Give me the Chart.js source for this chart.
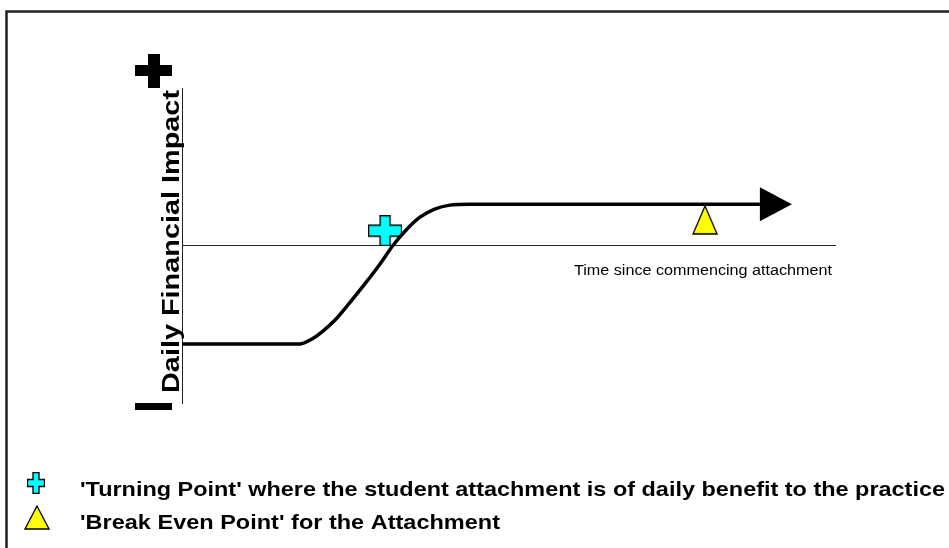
<!DOCTYPE html>
<html>
<head>
<meta charset="utf-8">
<script src="https://cdn.jsdelivr.net/npm/chart.js@4.4.0/dist/chart.umd.min.js"></script>
<style>
  html, body { margin: 0; padding: 0; background: #fff; }
</style>
</head>
<body>
<canvas id="myChart" width="949" height="548"></canvas>
<script>
// data
const time_pts   = [0, 18.1, 19.9, 21.4, 23.4, 25.7, 28.0, 30.3, 32.3, 34.5, 36.5, 38.7, 41.0, 44.1, 88.5];
const impact_pts = [-10, -10, -9.5, -8.8, -7.6, -5.8, -3.9, -1.9, 0, 1.7, 2.9, 3.7, 4.1, 4.2, 4.2];
const arrow_tip = [93.4, 4.2];
const turning_point = [31.1, 1.5];
const break_even = [80.1, 2.6];
const y_title = "Daily Financial Impact";
const x_label = "Time since commencing attachment";
const legend_labels = ["'Turning Point' where the student attachment is of daily benefit to the practice",
                       "'Break Even Point' for the Attachment"];

// marker pictures
function makePlus(w, h, arm) {
    const c = document.createElement('canvas');
    c.width = w; c.height = h;
    const g = c.getContext('2d');
    const ax = (w - arm) / 2, ay = (h - arm) / 2;
    g.beginPath();
    g.moveTo(ax + 0.5, 0.5); g.lineTo(ax + arm - 0.5, 0.5); g.lineTo(ax + arm - 0.5, ay);
    g.lineTo(w - 0.5, ay); g.lineTo(w - 0.5, ay + arm); g.lineTo(ax + arm - 0.5, ay + arm);
    g.lineTo(ax + arm - 0.5, h - 0.5); g.lineTo(ax + 0.5, h - 0.5); g.lineTo(ax + 0.5, ay + arm);
    g.lineTo(0.5, ay + arm); g.lineTo(0.5, ay); g.lineTo(ax + 0.5, ay);
    g.closePath();
    g.fillStyle = '#00ffff';
    g.fill();
    g.strokeStyle = '#000';
    g.lineWidth = 1.3;
    g.stroke();
    return c;
}
function makeTri(w, h) {
    const c = document.createElement('canvas');
    c.width = w; c.height = h;
    const g = c.getContext('2d');
    g.beginPath();
    g.moveTo(w / 2, 1); g.lineTo(w - 1, h - 1); g.lineTo(1, h - 1);
    g.closePath();
    g.fillStyle = '#ffff00';
    g.fill();
    g.strokeStyle = '#000';
    g.lineWidth = 1.3;
    g.stroke();
    return c;
}
const plusImg = makePlus(34, 31, 11);
const triImg = makeTri(26, 30);
const plusSmall = makePlus(18, 22, 7);
const triSmall = makeTri(26, 25);

function drawFit(g, text, x, y, width, font) {
    g.save();
    g.font = font;
    const w = g.measureText(text).width;
    g.translate(x, y);
    g.scale(width / w, 1);
    g.textAlign = 'left';
    g.textBaseline = 'alphabetic';
    g.fillText(text, 0, 0);
    g.restore();
}

const decor = {
    id: 'decor',
    beforeDraw(chart) {
        const g = chart.ctx;
        g.save();
        g.fillStyle = '#fff';
        g.fillRect(0, 0, chart.width, chart.height);
        g.restore();
    },
    afterDatasetsDraw(chart) {
        const g = chart.ctx;
        const xs = chart.scales.x, ys = chart.scales.y;
        g.save();
        // arrow head at the end of the curve
        const n = time_pts.length - 1;
        const x0 = xs.getPixelForValue(time_pts[n]);
        const y0 = ys.getPixelForValue(impact_pts[n]);
        const xt = xs.getPixelForValue(arrow_tip[0]);
        g.fillStyle = '#000';
        g.beginPath();
        g.moveTo(x0, y0 - 17); g.lineTo(xt, ys.getPixelForValue(arrow_tip[1])); g.lineTo(x0, y0 + 17);
        g.closePath();
        g.fill();

        // + and - signs of the y axis
        const left = chart.chartArea.left;
        g.fillRect(left - 47, 65, 37, 11);
        g.fillRect(left - 34, 54, 12, 34);
        g.fillRect(left - 47, 403, 37, 7);

        // y axis title
        g.save();
        g.translate(left - 3, 393);
        g.rotate(-Math.PI / 2);
        drawFit(g, y_title, 0, 0, 303, 'bold 23px "Liberation Sans", Arial, sans-serif');
        g.restore();

        // x axis label
        drawFit(g, x_label, 574, 275, 258, '14px "Liberation Sans", Arial, sans-serif');

        // legend
        g.drawImage(plusSmall, 27, 472);
        g.drawImage(triSmall, 24, 505);
        const lf = 'bold 21px "Liberation Sans Narrow", "Liberation Sans", Arial, sans-serif';
        drawFit(g, legend_labels[0], 80, 496, 865, lf);
        drawFit(g, legend_labels[1], 80, 529, 420, lf);

        // frame
        g.strokeStyle = '#222';
        g.lineWidth = 2.5;
        g.strokeRect(6.5, 11.5, 1000, 600);
        g.restore();
    }
};

const ctx = document.getElementById('myChart');
const myChart = new Chart(ctx, {
    type: 'line',
    data: {
        datasets: [{
            label: 'Daily Financial Impact',
            data: time_pts.map((t, i) => ({ x: t, y: impact_pts[i] })),
            borderColor: '#000',
            borderWidth: 3.5,
            pointRadius: 0,
            cubicInterpolationMode: 'monotone',
            fill: false
        }, {
            label: legend_labels[0],
            data: [{ x: turning_point[0], y: turning_point[1] }],
            pointStyle: plusImg,
            pointRadius: 10,
            showLine: false
        }, {
            label: legend_labels[1],
            data: [{ x: break_even[0], y: break_even[1] }],
            pointStyle: triImg,
            pointRadius: 10,
            showLine: false
        }]
    },
    options: {
        responsive: false,
        animation: false,
        layout: { padding: { left: 182, right: 114, top: 88, bottom: 145 } },
        plugins: {
            legend: { display: false },
            tooltip: { enabled: false }
        },
        scales: {
            x: {
                type: 'linear',
                min: 0,
                max: 100,
                position: { y: 0 },
                grid: { display: false, drawTicks: false },
                ticks: { display: false },
                border: { display: true, color: '#222', width: 1 }
            },
            y: {
                type: 'linear',
                min: -16,
                max: 16,
                grid: { display: false, drawTicks: false },
                ticks: { display: false },
                border: { display: true, color: '#222', width: 1 }
            }
        }
    },
    plugins: [decor]
});
</script>
</body>
</html>
